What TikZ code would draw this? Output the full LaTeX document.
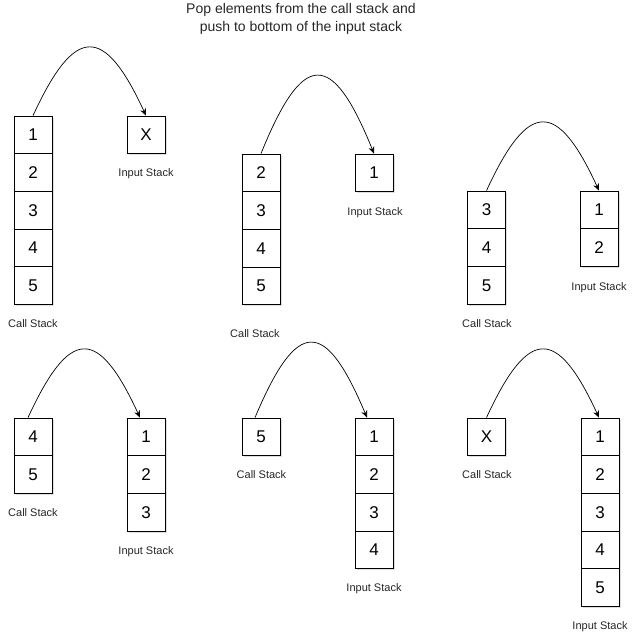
\documentclass[tikz,border=0pt]{standalone}
\usepackage{fontspec}
\setmainfont{Liberation Sans}
\usetikzlibrary{arrows.meta,shadows}
\tikzset{
  cell/.style={draw=black, line width=0.8pt, fill=white, minimum width=38pt,
    minimum height=37.7pt, inner sep=0pt, font=\fontsize{17}{20}\selectfont,
    drop shadow={shadow xshift=1.5pt, shadow yshift=-1.5pt, opacity=0.25, fill=gray}},
  lbl/.style={font=\fontsize{11}{13}\selectfont, text depth=0pt, inner sep=0pt, text=black!85},
  ttl/.style={font=\fontsize{14}{18}\selectfont, align=center, text=black!85, inner sep=0pt},
  move/.style={-{Stealth[length=7pt,width=6pt]}, line width=0.7pt}
}
\begin{document}
\begin{tikzpicture}[x=1pt,y=-1pt]
\useasboundingbox (0,0) rectangle (640,638);
\node[ttl] (title) at (301,19) {Pop elements from the call stack and\\push to bottom of the input stack};

% Panel 1
\foreach \v [count=\i] in {1,2,3,4,5}
  \node[cell] (p1c\i) at (33,{134.85+37.7*(\i-1)}) {\v};
\node[cell] (p1i1) at (146,134.85) {X};
\node[lbl] (p1cl) at (33,324) {Call Stack};
\node[lbl] (p1il) at (146,173) {Input Stack};
\draw[move] (p1c1.north) .. controls +(42,-91) and +(-42,-91) .. (p1i1.north);

% Panel 2
\foreach \v [count=\i] in {2,3,4,5}
  \node[cell] (p2c\i) at (261,{172.85+37.7*(\i-1)}) {\v};
\node[cell] (p2i1) at (374,172.85) {1};
\node[lbl] (p2cl) at (255,334) {Call Stack};
\node[lbl] (p2il) at (375,212) {Input Stack};
\draw[move] (p2c1.north) .. controls +(42,-104) and +(-42,-104) .. (p2i1.north);

% Panel 3
\foreach \v [count=\i] in {3,4,5}
  \node[cell] (p3c\i) at (486.5,{209.85+37.7*(\i-1)}) {\v};
\foreach \v [count=\i] in {1,2}
  \node[cell] (p3i\i) at (599,{209.85+37.7*(\i-1)}) {\v};
\node[lbl] (p3cl) at (487,324) {Call Stack};
\node[lbl] (p3il) at (599,287) {Input Stack};
\draw[move] (p3c1.north) .. controls +(42,-91) and +(-42,-91) .. (p3i1.north);

% Panel 4
\foreach \v [count=\i] in {4,5}
  \node[cell] (p4c\i) at (33,{436.85+37.7*(\i-1)}) {\v};
\foreach \v [count=\i] in {1,2,3}
  \node[cell] (p4i\i) at (146,{436.85+37.7*(\i-1)}) {\v};
\node[lbl] (p4cl) at (33,513) {Call Stack};
\node[lbl] (p4il) at (146,551) {Input Stack};
\draw[move] ([xshift=-5pt]p4c1.north) .. controls +(42,-91) and +(-42,-91) .. ([xshift=-6pt]p4i1.north);

% Panel 5
\node[cell] (p5c1) at (261,436.85) {5};
\foreach \v [count=\i] in {1,2,3,4}
  \node[cell] (p5i\i) at (374,{436.85+37.7*(\i-1)}) {\v};
\node[lbl] (p5cl) at (261.5,475) {Call Stack};
\node[lbl] (p5il) at (374,588) {Input Stack};
\draw[move] ([xshift=-6pt]p5c1.north) .. controls +(42,-100) and +(-42,-100) .. ([xshift=-7pt]p5i1.north);

% Panel 6
\node[cell] (p6c1) at (486.5,436.85) {X};
\foreach \v [count=\i] in {1,2,3,4,5}
  \node[cell] (p6i\i) at (600,{436.85+37.7*(\i-1)}) {\v};
\node[lbl] (p6cl) at (487,475) {Call Stack};
\node[lbl] (p6il) at (600,626) {Input Stack};
\draw[move] (p6c1.north) .. controls +(42,-91) and +(-42,-91) .. ([xshift=-1pt]p6i1.north);
\end{tikzpicture}
\end{document}
